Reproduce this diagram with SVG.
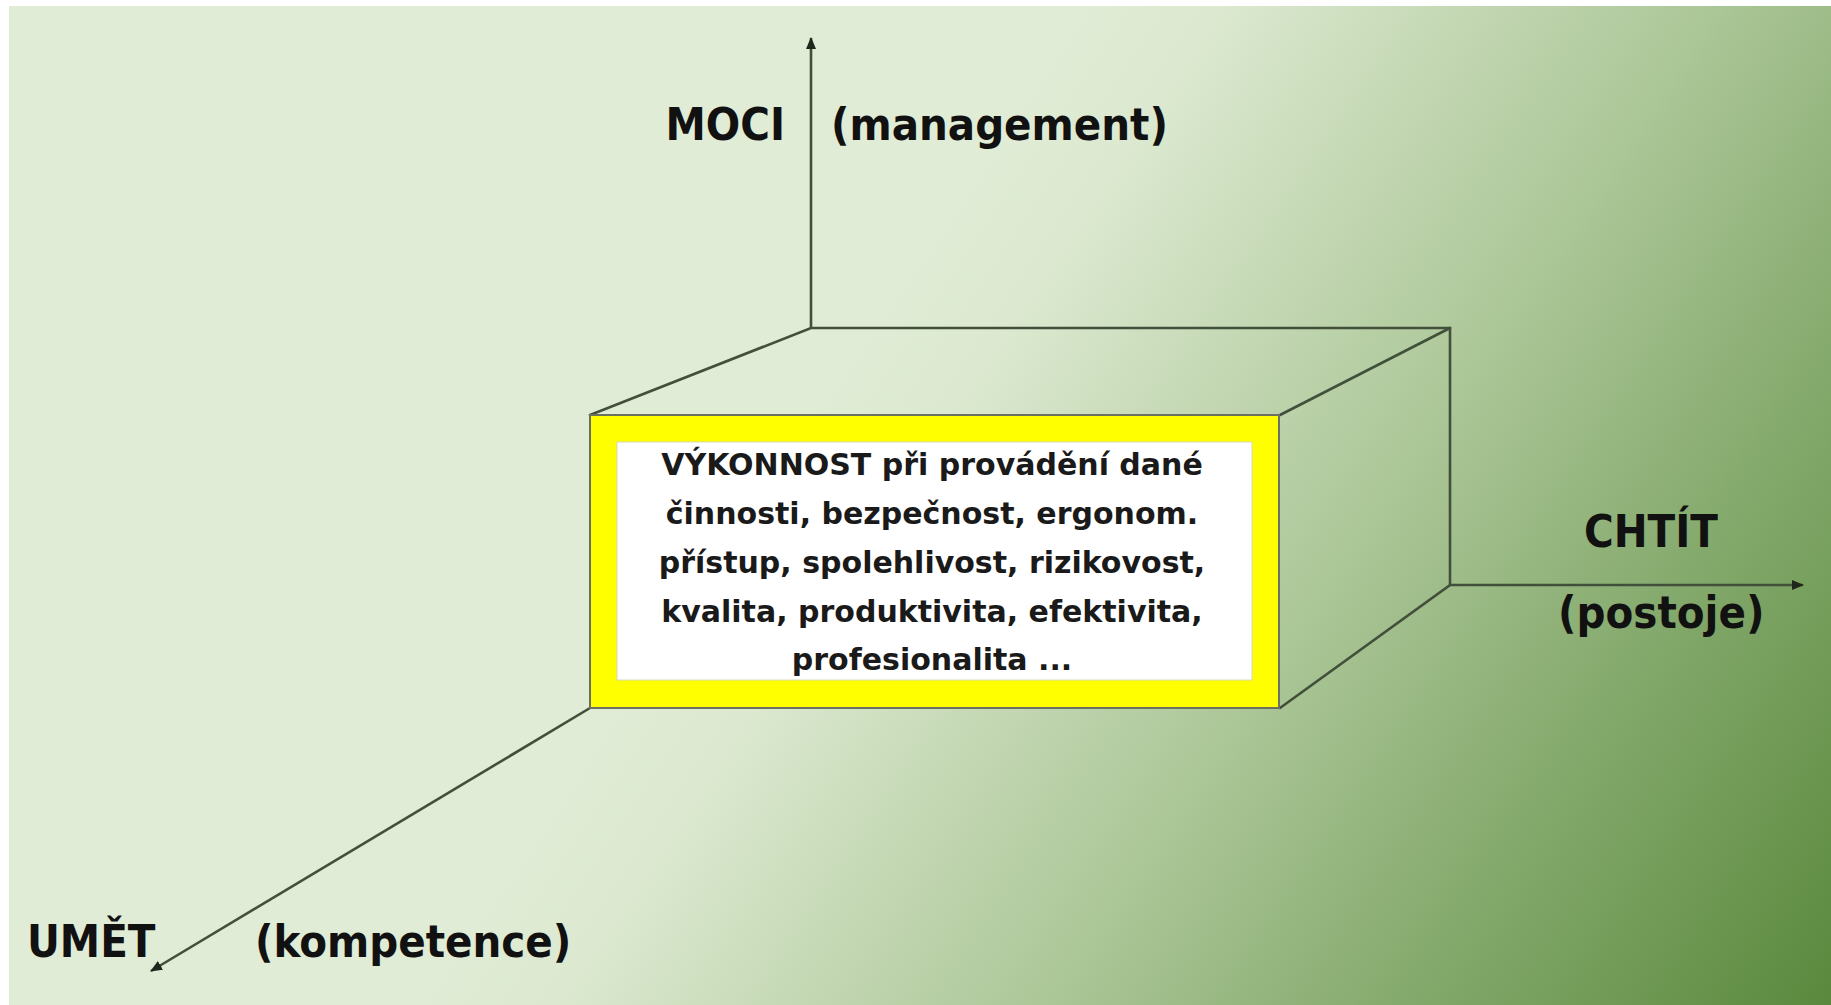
<svg xmlns="http://www.w3.org/2000/svg" width="1831" height="1005" viewBox="0 0 1831 1005">
  <defs>
    <linearGradient id="bgGrad" gradientUnits="userSpaceOnUse" x1="749" y1="500" x2="1731" y2="1155">
      <stop offset="0" stop-color="#E0ECD5"/>
      <stop offset="0.1" stop-color="#DCE9D0"/>
      <stop offset="0.45" stop-color="#ABC697"/>
      <stop offset="0.7" stop-color="#84A96C"/>
      <stop offset="1" stop-color="#5A893D"/>
    </linearGradient>
    <marker id="arrow" markerUnits="userSpaceOnUse" markerWidth="14" markerHeight="12" refX="11" refY="5" orient="auto">
      <path d="M0,0 L12,5 L0,10 z" fill="#1f261c"/>
    </marker>
    <style>
      .edge { stroke: #42503b; stroke-width: 2.6; fill: none; stroke-linecap: round; }
      .axis { stroke: #42503b; stroke-width: 2.6; fill: none; marker-end: url(#arrow); }
      .lbl { font-family: "DejaVu Sans Condensed", "DejaVu Sans", sans-serif; font-stretch: condensed; font-weight: bold; font-size: 45px; fill: #111; }
      .box { font-family: "DejaVu Sans", sans-serif; font-weight: bold; font-size: 30px; fill: #1a1a1a; text-anchor: middle; }
    </style>
  </defs>

  <rect x="0" y="0" width="1831" height="1005" fill="#ffffff"/>
  <rect id="background" x="9" y="6" width="1822" height="999" fill="url(#bgGrad)"/>

  <g id="connectors">
    <line class="axis" x1="811" y1="328" x2="811" y2="38"/>
    <line class="axis" x1="1450" y1="585" x2="1803" y2="585"/>
    <line class="axis" x1="590" y1="708" x2="151" y2="971"/>
  </g>

  <g id="cube">
    <polyline class="edge" points="590,415 811,328 1450,328 1450,585 1280,708"/>
    <line class="edge" x1="1280" y1="415" x2="1450" y2="328"/>
    <rect x="590" y="415" width="689" height="293" fill="#FFFF00" stroke="#6b7160" stroke-width="2"/>
    <rect x="617" y="442" width="635" height="238" fill="#ffffff" stroke="#d8d8c0" stroke-width="1"/>
    <text class="box" x="932" y="475">VÝKONNOST při provádění dané</text>
    <text class="box" x="932" y="524">činnosti, bezpečnost, ergonom.</text>
    <text class="box" x="932" y="573">přístup, spolehlivost, rizikovost,</text>
    <text class="box" x="932" y="622">kvalita, produktivita, efektivita,</text>
    <text class="box" x="932" y="670">profesionalita ...</text>
  </g>

  <g id="label-moci">
    <text class="lbl" x="785" y="140" text-anchor="end">MOCI</text>
    <text class="lbl" x="831" y="140">(management)</text>
  </g>
  <g id="label-chtit">
    <text class="lbl" x="1584" y="547">CHTÍT</text>
    <text class="lbl" x="1558" y="628">(postoje)</text>
  </g>
  <g id="label-umet">
    <text class="lbl" x="27" y="957">UMĚT</text>
    <text class="lbl" x="255" y="957">(kompetence)</text>
  </g>
</svg>
